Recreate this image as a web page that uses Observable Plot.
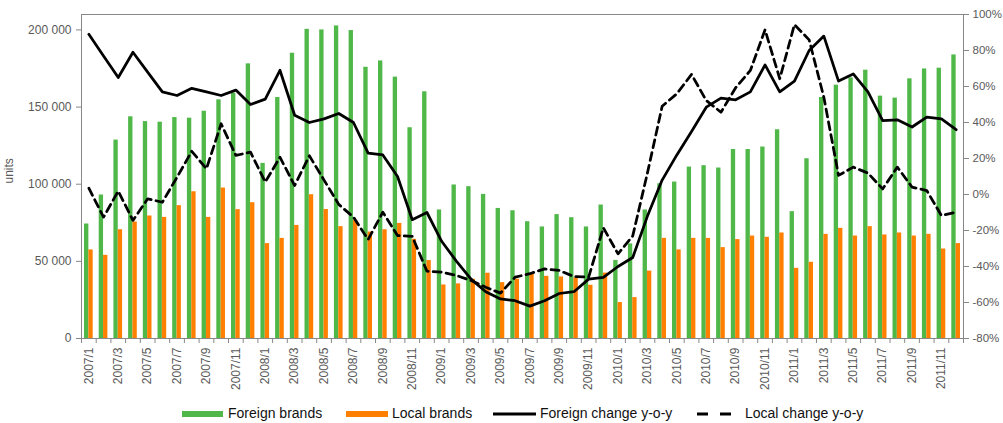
<!DOCTYPE html>
<html><head><meta charset="utf-8">
<script src="https://cdn.jsdelivr.net/npm/d3@7"></script>
<script src="https://cdn.jsdelivr.net/npm/@observablehq/plot@0.6"></script>
<style>
html,body{margin:0;padding:0;background:#fff;}
#chart{position:relative;width:1003px;height:423px;font-family:"Liberation Sans",Arial,sans-serif;}
#legend{position:absolute;left:0;top:400px;width:1003px;height:23px;}
.sw{position:absolute;top:11px;height:6px;}
.lt{position:absolute;top:5px;font-size:14px;line-height:17px;color:#111;white-space:nowrap;}
.ls{position:absolute;top:9px;}
</style></head><body><div id="chart"></div>
<script>
const months = [
"2007/1","2007/2","2007/3","2007/4","2007/5","2007/6","2007/7","2007/8","2007/9","2007/10","2007/11","2007/12",
"2008/1","2008/2","2008/3","2008/4","2008/5","2008/6","2008/7","2008/8","2008/9","2008/10","2008/11","2008/12",
"2009/1","2009/2","2009/3","2009/4","2009/5","2009/6","2009/7","2009/8","2009/9","2009/10","2009/11","2009/12",
"2010/1","2010/2","2010/3","2010/4","2010/5","2010/6","2010/7","2010/8","2010/9","2010/10","2010/11","2010/12",
"2011/1","2011/2","2011/3","2011/4","2011/5","2011/6","2011/7","2011/8","2011/9","2011/10","2011/11","2011/12"];
const foreign = [
74200, 93000, 128600, 143700, 140600, 140200, 143200, 142800, 147300, 154700, 159000, 178000,
113500, 156200, 184900, 200400, 200000, 202600, 199600, 175800, 179900, 169400, 136600, 159900,
83300, 99500, 98400, 93400, 84300, 82800, 75700, 72300, 80300, 78300, 72300, 86500,
50600, 61300, 83300, 100300, 101400, 111100, 112000, 110500, 122500, 122500, 124100, 135300,
82200, 116500, 156200, 164200, 168900, 173900, 157100, 155800, 168300, 174700, 175200, 183800];
const local = [
57400, 53900, 70500, 75500, 79400, 78500, 86100, 95100, 78500, 97500, 83500, 88000,
61500, 64900, 73300, 93200, 83600, 72500, 76600, 69000, 70500, 74600, 64300, 50500,
34700, 35400, 38400, 42300, 36200, 38400, 42100, 40300, 39900, 39300, 34500, 42400,
23300, 26500, 43700, 64900, 57400, 64900, 64900, 58900, 64100, 66400, 65600, 68400,
45500, 49400, 67500, 71400, 66400, 72500, 67100, 68400, 66400, 67500, 58000, 61500];
const foreignChange = [
89, 77, 65, 79, 68, 57, 55, 59, 57, 55, 58, 50,
53, 69, 44, 40, 42, 45, 40, 23, 22, 10, -14, -10,
-26, -37, -47, -54, -58, -59, -62, -59, -55, -54, -47, -46,
-40, -35, -12, 8, 22, 35, 48.5, 53.5, 52.6, 57, 72, 57,
63, 80, 88, 63, 67, 57, 41, 41.5, 37.5, 43, 42, 36];
const localChange = [
3.5, -12.6, 1.9, -14.4, -2.4, -4.3, 9.6, 24, 14.3, 39.3, 21.7, 23.5,
6.9, 20.7, 5, 21.5, 8, -5.5, -12.6, -25, -9.8, -22.8, -23.3, -42.6,
-43.1, -45, -47.8, -51.5, -54.8, -45.9, -44, -41.3, -42.2, -45.6, -45.9, -18.5,
-33, -23, 12, 49, 56, 66.7, 52.2, 45.7, 59.3, 68.9, 91.5, 64.3,
94.4, 85.9, 54, 10.6, 15.2, 11.9, 3.1, 15.2, 4.1, 2.2, -11.7, -9.8];
const unitTicks = [0, 50000, 100000, 150000, 200000];
const pctTicks = [-80, -60, -40, -20, 0, 20, 40, 60, 80, 100];
const seriesNames = ["Foreign brands", "Local brands", "Foreign change y-o-y", "Local change y-o-y"];

const GREEN = "#4fb848", ORANGE = "#ff7f00", AXIS = "#888888", TXT = "#595959";
const W = 1003, H = 400, mL = 81, mR = 40, mT = 14, mB = 62;
const Y_MAX = 210000, P_MIN = -80, P_MAX = 100;
const toU = p => (p - P_MIN) / (P_MAX - P_MIN) * Y_MAX;
const fromU = u => Math.round(u / Y_MAX * (P_MAX - P_MIN) + P_MIN);
const step = (W - mL - mR) / months.length;
const pad = 0.41;
const half = step * (1 - pad) / 2;
const fmtUnits = v => d3.format(",")(v).replace(/,/g, " ");

const data = months.map((m, i) => ({month: m, foreign: foreign[i], local: local[i], fc: foreignChange[i], lc: localChange[i]}));

const plot = Plot.plot({
  width: W, height: H, marginLeft: mL, marginRight: mR, marginTop: mT, marginBottom: mB,
  style: {fontFamily: '"Liberation Sans", Arial, sans-serif', fontSize: "12px", color: TXT, background: "white", overflow: "visible"},
  x: {type: "band", domain: months, paddingInner: pad, paddingOuter: pad / 2, axis: null},
  y: {domain: [0, Y_MAX], axis: null},
  marks: [
    Plot.barY(data, {x: "month", y: "foreign", fill: GREEN, insetRight: half}),
    Plot.barY(data, {x: "month", y: "local", fill: ORANGE, insetLeft: half}),
    Plot.line(data, {x: "month", y: d => toU(d.lc), stroke: "#000", strokeWidth: 2.75, strokeDasharray: "8,5"}),
    Plot.line(data, {x: "month", y: d => toU(d.fc), stroke: "#000", strokeWidth: 2.75}),
    Plot.frame({stroke: AXIS}),
    Plot.axisY({ticks: unitTicks, tickFormat: fmtUnits, tickSize: 5, tickPadding: 5, stroke: AXIS, fill: TXT, label: null}),
    Plot.axisY({anchor: "right", ticks: pctTicks.map(toU), tickFormat: v => fromU(v) + "%", tickSize: 5, tickPadding: 4, fontSize: 11.5, stroke: AXIS, fill: TXT, label: null}),
    Plot.axisX({ticks: months, tickSize: 5, tickFormat: () => "", dx: -step / 2, stroke: AXIS, label: null}),
    Plot.axisX({ticks: [months[months.length - 1]], tickSize: 5, tickFormat: () => "", dx: step / 2, stroke: AXIS, label: null}),
    Plot.axisX({ticks: months.filter((m, i) => i % 2 === 0), tickSize: 0, tickPadding: 9, tickRotate: -90, fill: TXT, label: null}),
    Plot.text(["units"], {frameAnchor: "left", text: d => d, rotate: -90, dx: -72, dy: 7, fill: TXT, fontSize: 12})
  ]
});
const chart = document.getElementById("chart");
chart.appendChild(plot);

const legend = document.createElement("div");
legend.id = "legend";
legend.innerHTML = `
<div class="sw" style="left:182px;width:41px;background:${GREEN}"></div>
<div class="lt" style="left:228px">${seriesNames[0]}</div>
<div class="sw" style="left:346px;width:42px;background:${ORANGE}"></div>
<div class="lt" style="left:392px">${seriesNames[1]}</div>
<svg class="ls" style="left:493px" width="44" height="10"><line x1="0" x2="43" y1="5" y2="5" stroke="#000" stroke-width="3"/></svg>
<div class="lt" style="left:540px">${seriesNames[2]}</div>
<svg class="ls" style="left:697px" width="36" height="10"><line x1="0" x2="35" y1="5" y2="5" stroke="#000" stroke-width="3" stroke-dasharray="11,12"/></svg>
<div class="lt" style="left:745px">${seriesNames[3]}</div>`;
chart.appendChild(legend);
</script>
</body></html>
